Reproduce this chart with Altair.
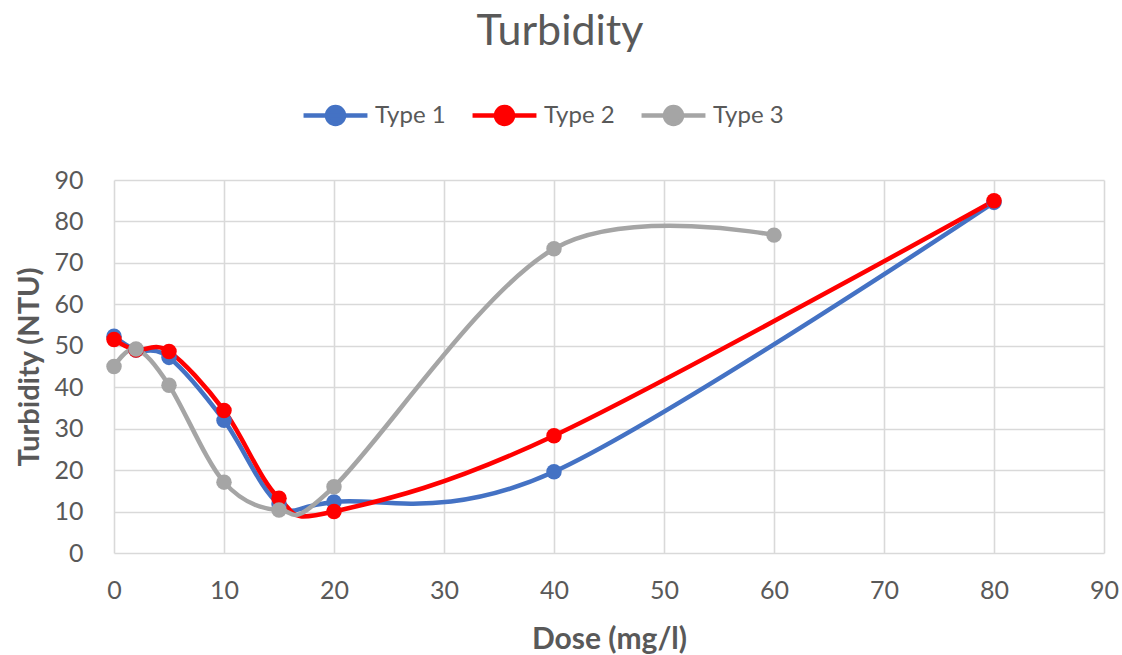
import altair as alt
import pandas as pd

dose_1 = [0, 2, 5, 10, 15, 20, 40, 80]
turb_1 = [52.3, 49.0, 47.2, 32.0, 11.8, 12.3, 19.6, 84.6]
dose_2 = [0, 2, 5, 10, 15, 20, 40, 80]
turb_2 = [51.5, 49.0, 48.6, 34.4, 13.2, 10.0, 28.3, 85.0]
dose_3 = [0, 2, 5, 10, 15, 20, 40, 60]
turb_3 = [45.0, 49.2, 40.5, 17.1, 10.4, 16.0, 73.4, 76.7]
series = ["Type 1", "Type 2", "Type 3"]
colors = ["#4472C4", "#FF0000", "#A5A5A5"]

rows = []
for name, xs, ys in zip(series, [dose_1, dose_2, dose_3], [turb_1, turb_2, turb_3]):
    for i, (x, y) in enumerate(zip(xs, ys)):
        rows.append({"series": name, "dose": x, "turb": y, "order": i})
df = pd.DataFrame(rows)

FONT = "Lato"
GREY = "#595959"

legend_path = "M-1.88,0L1.88,0M0.5,0A0.5,0.5,0,1,1,-0.5,0A0.5,0.5,0,1,1,0.5,0Z"

x_enc = alt.X("dose:Q", scale=alt.Scale(domain=[0, 90], nice=False),
              axis=alt.Axis(values=list(range(0, 91, 10)), title="Dose (mg/l)",
                            labelFlush=False))
y_enc = alt.Y("turb:Q", scale=alt.Scale(domain=[0, 90], nice=False),
              axis=alt.Axis(values=list(range(0, 91, 10)), title="Turbidity (NTU)"))
color_enc = alt.Color("series:N",
                      scale=alt.Scale(domain=series, range=colors),
                      legend=alt.Legend(title=None, orient="none", direction="horizontal",
                                        legendX=202, legendY=-84,
                                        symbolType=legend_path, symbolSize=1156,
                                        symbolStrokeWidth=4.5, labelOffset=20,
                                        columnPadding=17, labelFontSize=24,
                                        labelColor=GREY, labelFont=FONT))

lines = alt.Chart(df).mark_line(interpolate="cardinal", tension=0, strokeWidth=4.5).encode(
    x=x_enc, y=y_enc, color=color_enc, order="order:Q", detail="series:N")
points = alt.Chart(df).mark_circle(size=240, opacity=1).encode(
    x=x_enc, y=y_enc, color=color_enc)

chart = alt.layer(lines, points).properties(
    width=990, height=373,
    autosize=alt.AutoSizeParams(type="none"),
    padding={"left": 114, "top": 180, "right": 18, "bottom": 102},
    title=alt.Title("Turbidity", fontSize=43, font=FONT, color=GREY,
                    fontWeight="normal", anchor="middle", offset=42, dx=-49),
).configure_axis(
    grid=True, gridColor="#D9D9D9", gridWidth=1.6, domain=False, ticks=False,
    labelFont=FONT, labelFontSize=25, labelColor=GREY,
    titleFont=FONT, titleColor=GREY, titleFontWeight="bold",
).configure_axisX(labelPadding=25, titlePadding=21, titleFontSize=30
).configure_axisY(labelPadding=31, titlePadding=9, titleFontSize=29
).configure_view(stroke=None)

chart.save("out.html", embed_options={"renderer": "svg", "actions": False})
